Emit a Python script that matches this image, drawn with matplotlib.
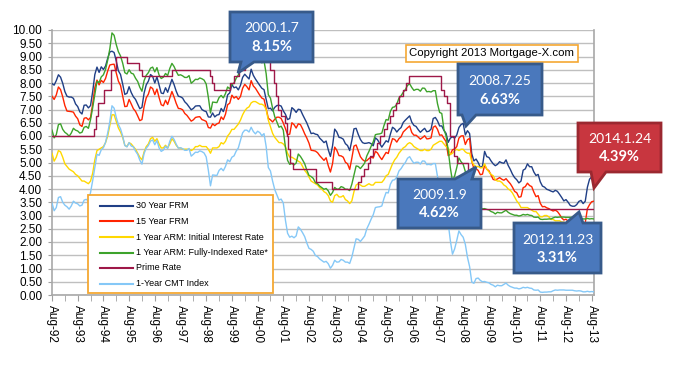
import numpy as np
import matplotlib
matplotlib.use("Agg")
import matplotlib.pyplot as plt
from matplotlib.patches import Polygon, Rectangle
from matplotlib.lines import Line2D

# ---------------- data (monthly, Aug-1992 .. Sep-2013) ----------------
frm30 = [7.98, 7.92, 8.09, 8.31, 8.22,
         7.99, 7.68, 7.50, 7.47, 7.47, 7.42, 7.21, 7.11, 6.91, 6.83, 7.16, 7.17,
         7.06, 7.15, 7.68, 8.32, 8.60, 8.40, 8.61, 8.51, 8.64, 8.93, 9.17, 9.20,
         9.15, 8.83, 8.46, 8.32, 7.96, 7.57, 7.61, 7.86, 7.64, 7.48, 7.38, 7.20,
         7.03, 7.08, 7.62, 7.93, 8.07, 8.32, 8.25, 8.00, 8.23, 7.92, 7.62, 7.60,
         7.82, 7.65, 7.90, 8.14, 7.94, 7.69, 7.50, 7.48, 7.43, 7.29, 7.21, 7.10,
         6.99, 7.04, 7.13, 7.14, 7.14, 7.00, 6.95, 6.92, 6.72, 6.71, 6.87, 6.72,
         6.79, 6.81, 7.04, 6.92, 7.15, 7.55, 7.63, 7.94, 7.82, 7.85, 7.74, 7.91,
         8.21, 8.33, 8.24, 8.15, 8.52, 8.29, 8.15, 8.03, 7.91, 7.80, 7.75, 7.38,
         7.03, 7.05, 6.95, 7.08, 7.15, 7.16, 7.13, 6.95, 6.82, 6.62, 6.66, 7.07,
         7.00, 6.89, 7.01, 6.99, 6.81, 6.65, 6.49, 6.29, 6.09, 6.11, 6.07, 6.05,
         5.92, 5.84, 5.75, 5.81, 5.48, 5.23, 5.63, 6.26, 6.15, 5.95, 5.93, 5.88,
         5.71, 5.64, 5.45, 5.83, 6.27, 6.29, 6.06, 5.87, 5.75, 5.72, 5.73, 5.75,
         5.71, 5.63, 5.93, 5.86, 5.72, 5.58, 5.70, 5.82, 5.77, 6.07, 6.33, 6.27,
         6.15, 6.25, 6.32, 6.51, 6.60, 6.68, 6.76, 6.52, 6.40, 6.36, 6.24, 6.14,
         6.22, 6.29, 6.16, 6.18, 6.26, 6.66, 6.70, 6.57, 6.38, 6.38, 6.21, 6.10,
         5.76, 5.92, 5.97, 5.92, 6.04, 6.32, 6.43, 6.48, 6.04, 6.20, 6.09, 5.33,
         5.06, 5.13, 5.00, 4.81, 4.86, 5.42, 5.22, 5.19, 5.06, 4.95, 4.88, 4.93,
         5.03, 4.99, 4.97, 5.10, 4.89, 4.74, 4.56, 4.43, 4.35, 4.23, 4.30, 4.71,
         4.76, 4.95, 4.84, 4.84, 4.64, 4.51, 4.55, 4.27, 4.11, 4.07, 3.99, 3.96,
         3.92, 3.89, 3.95, 3.91, 3.80, 3.68, 3.55, 3.60, 3.50, 3.38, 3.35, 3.35,
         3.41, 3.53, 3.57, 3.45, 3.54, 4.07, 4.37, 4.46, 4.49]

frm15 = [7.50, 7.38, 7.55, 7.85, 7.75,
         7.48, 7.15, 6.94, 6.93, 6.92, 6.90, 6.75, 6.65, 6.42, 6.36, 6.67, 6.69,
         6.61, 6.70, 7.21, 7.83, 8.11, 7.93, 8.10, 8.02, 8.17, 8.45, 8.68, 8.70,
         8.71, 8.38, 8.07, 7.91, 7.52, 7.11, 7.12, 7.38, 7.21, 7.03, 6.93, 6.76,
         6.58, 6.62, 7.11, 7.44, 7.58, 7.85, 7.79, 7.56, 7.77, 7.45, 7.18, 7.14,
         7.35, 7.19, 7.44, 7.68, 7.47, 7.23, 7.04, 7.03, 6.99, 6.85, 6.78, 6.67,
         6.56, 6.61, 6.70, 6.72, 6.73, 6.62, 6.59, 6.55, 6.32, 6.30, 6.46, 6.39,
         6.46, 6.49, 6.72, 6.62, 6.82, 7.18, 7.24, 7.54, 7.43, 7.49, 7.38, 7.49,
         7.80, 7.95, 7.86, 7.74, 8.09, 7.89, 7.80, 7.67, 7.54, 7.43, 7.39, 7.03,
         6.67, 6.61, 6.53, 6.63, 6.71, 6.71, 6.66, 6.49, 6.28, 6.05, 6.07, 6.50,
         6.43, 6.30, 6.46, 6.43, 6.27, 6.08, 5.92, 5.73, 5.46, 5.45, 5.43, 5.37,
         5.26, 5.17, 5.08, 5.18, 4.88, 4.64, 4.96, 5.58, 5.46, 5.26, 5.25, 5.20,
         5.01, 4.95, 4.74, 5.16, 5.62, 5.66, 5.44, 5.22, 5.11, 5.05, 5.07, 5.15,
         5.20, 5.17, 5.42, 5.36, 5.22, 5.11, 5.25, 5.38, 5.34, 5.64, 5.90, 5.87,
         5.77, 5.90, 5.97, 6.15, 6.23, 6.31, 6.38, 6.13, 6.03, 6.03, 5.96, 5.88,
         5.94, 6.01, 5.89, 5.90, 5.93, 6.33, 6.38, 6.25, 6.03, 6.04, 5.91, 5.79,
         5.26, 5.31, 5.48, 5.51, 5.60, 5.92, 6.00, 6.01, 5.68, 5.86, 5.91, 5.05,
         4.77, 4.77, 4.70, 4.54, 4.56, 4.90, 4.75, 4.69, 4.53, 4.36, 4.34, 4.38,
         4.43, 4.37, 4.33, 4.39, 4.29, 4.20, 4.07, 3.91, 3.86, 3.69, 3.71, 4.05,
         4.09, 4.22, 4.13, 4.09, 3.88, 3.71, 3.75, 3.46, 3.33, 3.34, 3.29, 3.26,
         3.21, 3.17, 3.20, 3.15, 3.04, 2.91, 2.83, 2.86, 2.79, 2.70, 2.66, 2.65,
         2.71, 2.77, 2.75, 2.67, 2.73, 3.26, 3.41, 3.52, 3.54]

arm_initial = [5.35, 5.05, 5.20, 5.45, 5.40,
               5.20, 4.95, 4.85, 4.75, 4.70, 4.65, 4.55, 4.50, 4.40, 4.30, 4.30, 4.25,
               4.20, 4.30, 4.60, 5.10, 5.45, 5.50, 5.55, 5.60, 5.75, 6.00, 6.40, 6.80,
               6.80, 6.55, 6.30, 6.15, 5.95, 5.65, 5.60, 5.75, 5.70, 5.60, 5.50, 5.35,
               5.20, 5.10, 5.40, 5.60, 5.70, 5.90, 5.95, 5.80, 5.90, 5.70, 5.55, 5.55,
               5.65, 5.55, 5.70, 5.90, 5.80, 5.65, 5.55, 5.55, 5.50, 5.50, 5.50, 5.50,
               5.45, 5.50, 5.60, 5.60, 5.65, 5.60, 5.60, 5.60, 5.50, 5.35, 5.55, 5.55,
               5.55, 5.60, 5.75, 5.70, 5.80, 6.00, 6.10, 6.25, 6.25, 6.35, 6.45, 6.60,
               6.80, 6.95, 7.05, 7.10, 7.25, 7.30, 7.30, 7.25, 7.20, 7.20, 7.15, 7.00,
               6.60, 6.35, 6.10, 5.95, 5.85, 5.75, 5.75, 5.70, 5.60, 5.35, 5.20, 5.20,
               5.15, 5.10, 5.05, 5.00, 4.85, 4.70, 4.60, 4.45, 4.30, 4.25, 4.20, 4.15,
               4.05, 4.00, 3.90, 3.85, 3.75, 3.55, 3.50, 3.75, 3.80, 3.70, 3.70, 3.75,
               3.60, 3.55, 3.45, 3.55, 3.90, 4.15, 4.20, 4.15, 4.10, 4.10, 4.15, 4.20,
               4.15, 4.15, 4.25, 4.25, 4.25, 4.25, 4.35, 4.50, 4.55, 4.75, 4.95, 5.10,
               5.20, 5.35, 5.45, 5.55, 5.60, 5.70, 5.75, 5.70, 5.60, 5.55, 5.50, 5.45,
               5.45, 5.50, 5.45, 5.45, 5.50, 5.65, 5.70, 5.75, 5.80, 5.80, 5.70, 5.60,
               5.55, 5.30, 5.35, 5.45, 5.50, 5.45, 5.50, 5.50, 5.40, 5.35, 5.35, 5.05,
               4.90, 4.85, 4.85, 4.80, 4.80, 4.95, 4.75, 4.65, 4.55, 4.50, 4.35, 4.30,
               4.30, 4.25, 4.15, 4.10, 4.00, 3.95, 3.85, 3.70, 3.55, 3.45, 3.30, 3.30,
               3.30, 3.30, 3.25, 3.20, 3.15, 3.15, 3.05, 2.95, 2.95, 3.00, 3.00, 2.95,
               2.85, 2.85, 2.80, 2.80, 2.80, 2.75, 2.75, 2.70, 2.65, 2.60, 2.60, 2.55,
               2.60, 2.65, 2.65, 2.60, 2.55, 2.55, 2.65, 2.70, 2.65]

arm_fully_indexed = [6.22, 5.93, 6.05, 6.43, 6.46,
                     6.25, 6.14, 6.08, 5.99, 6.11, 6.29, 6.22, 6.19, 6.11, 6.14, 6.33, 6.36,
                     6.29, 6.62, 7.07, 7.57, 8.06, 8.02, 8.23, 8.31, 8.51, 8.86, 9.29, 9.89,
                     9.80, 9.45, 9.18, 9.02, 8.75, 8.39, 8.34, 8.50, 8.37, 8.34, 8.18, 8.06,
                     7.84, 7.69, 8.09, 8.29, 8.39, 8.56, 8.60, 8.42, 8.58, 8.30, 8.17, 8.22,
                     8.36, 8.28, 8.55, 8.74, 8.62, 8.44, 8.29, 8.31, 8.27, 8.21, 8.21, 8.28,
                     7.99, 8.06, 8.14, 8.13, 8.19, 8.16, 8.11, 7.96, 7.46, 6.87, 7.28, 7.27,
                     7.26, 7.45, 7.53, 7.44, 7.60, 7.85, 7.78, 7.95, 8.00, 8.18, 8.30, 8.59,
                     8.87, 8.97, 8.97, 8.90, 9.08, 8.92, 8.83, 8.93, 8.88, 8.76, 8.84, 8.35,
                     7.56, 7.43, 7.05, 6.73, 6.53, 6.33, 6.37, 6.22, 5.57, 5.08, 4.93, 4.97,
                     4.91, 4.98, 5.32, 5.23, 5.10, 4.95, 4.71, 4.51, 4.47, 4.40, 4.24, 4.20,
                     4.11, 4.05, 3.99, 4.02, 3.93, 3.76, 3.87, 4.06, 3.99, 4.00, 4.09, 4.06,
                     3.99, 3.99, 3.94, 4.18, 4.53, 4.87, 4.85, 4.77, 4.87, 4.98, 5.25, 5.42,
                     5.61, 5.78, 6.05, 6.07, 6.08, 6.11, 6.39, 6.62, 6.60, 6.93, 7.08, 7.10,
                     7.20, 7.43, 7.52, 7.65, 7.75, 7.91, 7.97, 7.83, 7.72, 7.76, 7.76, 7.69,
                     7.81, 7.80, 7.67, 7.68, 7.66, 7.71, 7.71, 7.22, 6.89, 6.85, 6.25, 6.01,
                     5.46, 4.80, 4.29, 4.49, 4.81, 5.17, 5.03, 4.93, 4.66, 4.17, 3.82, 3.24,
                     3.19, 3.37, 3.39, 3.30, 3.25, 3.26, 3.23, 3.21, 3.15, 3.12, 3.06, 3.12,
                     3.10, 3.10, 3.15, 3.20, 3.12, 3.07, 3.04, 3.01, 3.01, 2.98, 3.00, 3.04,
                     3.02, 3.04, 3.01, 3.00, 2.94, 2.93, 2.94, 2.86, 2.85, 2.86, 2.86, 2.87,
                     2.87, 2.91, 2.94, 2.93, 2.94, 2.94, 2.94, 2.93, 2.93, 2.93, 2.93, 2.91,
                     2.90, 2.91, 2.90, 2.87, 2.87, 2.89, 2.87, 2.88, 2.87]

cmt_1yr = [3.47, 3.18, 3.30, 3.68, 3.71,
           3.50, 3.39, 3.33, 3.24, 3.36, 3.54, 3.47, 3.44, 3.36, 3.39, 3.58, 3.61,
           3.54, 3.87, 4.32, 4.82, 5.31, 5.27, 5.48, 5.56, 5.76, 6.11, 6.54, 7.14,
           7.05, 6.70, 6.43, 6.27, 6.00, 5.64, 5.59, 5.75, 5.62, 5.59, 5.43, 5.31,
           5.09, 4.94, 5.34, 5.54, 5.64, 5.81, 5.85, 5.67, 5.83, 5.55, 5.42, 5.47,
           5.61, 5.53, 5.80, 5.99, 5.87, 5.69, 5.54, 5.56, 5.52, 5.46, 5.46, 5.53,
           5.24, 5.31, 5.39, 5.38, 5.44, 5.41, 5.36, 5.21, 4.71, 4.12, 4.53, 4.52,
           4.51, 4.70, 4.78, 4.69, 4.85, 5.10, 5.03, 5.20, 5.25, 5.43, 5.55, 5.84,
           6.12, 6.22, 6.22, 6.15, 6.33, 6.17, 6.08, 6.18, 6.13, 6.01, 6.09, 5.60,
           4.81, 4.68, 4.30, 3.98, 3.78, 3.58, 3.62, 3.47, 2.82, 2.33, 2.18, 2.22,
           2.16, 2.23, 2.57, 2.48, 2.35, 2.20, 1.96, 1.76, 1.72, 1.65, 1.49, 1.45,
           1.36, 1.30, 1.24, 1.27, 1.18, 1.01, 1.12, 1.31, 1.24, 1.25, 1.34, 1.31,
           1.24, 1.24, 1.19, 1.43, 1.78, 2.12, 2.10, 2.02, 2.12, 2.23, 2.50, 2.67,
           2.86, 3.03, 3.30, 3.32, 3.33, 3.36, 3.64, 3.87, 3.85, 4.18, 4.33, 4.35,
           4.45, 4.68, 4.77, 4.90, 5.00, 5.16, 5.22, 5.08, 4.97, 5.01, 5.01, 4.94,
           5.06, 5.05, 4.92, 4.93, 4.91, 4.96, 4.96, 4.47, 4.14, 4.10, 3.50, 3.26,
           2.71, 2.05, 1.54, 1.74, 2.06, 2.42, 2.28, 2.18, 1.91, 1.42, 1.07, 0.49,
           0.44, 0.62, 0.64, 0.55, 0.50, 0.51, 0.48, 0.46, 0.40, 0.37, 0.31, 0.37,
           0.35, 0.35, 0.40, 0.45, 0.37, 0.32, 0.29, 0.26, 0.26, 0.23, 0.25, 0.29,
           0.27, 0.29, 0.26, 0.25, 0.19, 0.18, 0.19, 0.11, 0.10, 0.11, 0.11, 0.12,
           0.12, 0.16, 0.19, 0.18, 0.19, 0.19, 0.19, 0.18, 0.18, 0.18, 0.18, 0.16,
           0.15, 0.16, 0.15, 0.12, 0.12, 0.14, 0.12, 0.13, 0.12]

prime_dates = ["1992-08-01", "1994-03-24", "1994-04-19", "1994-05-17", "1994-08-16",
               "1994-11-15", "1995-02-01", "1995-07-07", "1995-12-20", "1996-02-01",
               "1997-03-26", "1998-09-30", "1998-10-16", "1998-11-18", "1999-07-01",
               "1999-08-25", "1999-11-17", "2000-02-03", "2000-03-22", "2000-05-17",
               "2001-01-04", "2001-01-31", "2001-03-21", "2001-04-19", "2001-05-16",
               "2001-06-28", "2001-08-22", "2001-09-18", "2001-10-03", "2001-11-07",
               "2001-12-12", "2002-11-07", "2003-06-27", "2004-07-01", "2004-08-11",
               "2004-09-22", "2004-11-11", "2004-12-15", "2005-02-03", "2005-03-23",
               "2005-05-04", "2005-07-01", "2005-08-10", "2005-09-21", "2005-11-02",
               "2005-12-14", "2006-02-01", "2006-03-29", "2006-05-11", "2006-06-29",
               "2007-09-19", "2007-11-01", "2007-12-12", "2008-01-22", "2008-01-31",
               "2008-03-19", "2008-05-01", "2008-10-09", "2008-10-30", "2008-12-17",
               "2013-09-01"]
prime_rates = [6.00, 6.25, 6.75, 7.25, 7.75,
               8.50, 9.00, 8.75, 8.50, 8.25,
               8.50, 8.25, 8.00, 7.75, 8.00,
               8.25, 8.50, 8.75, 9.00, 9.50,
               9.00, 8.50, 8.00, 7.50, 7.00,
               6.75, 6.50, 6.00, 5.50, 5.00,
               4.75, 4.25, 4.00, 4.25, 4.50,
               4.75, 5.00, 5.25, 5.50, 5.75,
               6.00, 6.25, 6.50, 6.75, 7.00,
               7.25, 7.50, 7.75, 8.00, 8.25,
               7.75, 7.50, 7.25, 6.50, 6.00,
               5.25, 5.00, 4.50, 4.00, 3.25,
               3.25]

series_names = ["30 Year FRM", "15 Year FRM", "1 Year ARM: Initial Interest Rate",
                "1 Year ARM: Fully-Indexed Rate*", "Prime Rate", "1-Year CMT Index"]
series_colors = ["#203F86", "#FF2400", "#FFD800", "#3DA32B", "#9E1848", "#85C8F7"]

tick_labels = ["Aug-%02d" % (y % 100) for y in range(1992, 2014)]
y_ticks = [i * 0.5 for i in range(21)]

callouts = [  # (date text, value text, colour)
    ("2000.1.7", "8.15%", "blue"),
    ("2008.7.25", "6.63%", "blue"),
    ("2009.1.9", "4.62%", "blue"),
    ("2012.11.23", "3.31%", "blue"),
    ("2014.1.24", "4.39%", "red"),
]

# ---------------- figure ----------------
W, H = 673, 366
plt.rcParams["font.family"] = ["Liberation Sans", "DejaVu Sans"]
fig = plt.figure(figsize=(W / 100, H / 100), dpi=100)
fig.patch.set_facecolor("white")
ax = fig.add_axes([52 / W, 1 - 295 / H, 542 / W, 265 / H])

start = 1992 + 7 / 12
t = start + np.arange(len(frm30)) / 12.0


def frac_year(s):
    y, m, d = (int(p) for p in s.split("-"))
    return y + (m - 1) / 12 + (d - 1) / 365.0


pt = [frac_year(s) for s in prime_dates]

lw = 1.0
ax.plot(t, frm30, color=series_colors[0], lw=lw, zorder=3)
ax.plot(t, frm15, color=series_colors[1], lw=lw, zorder=3)
ax.plot(t, arm_initial, color=series_colors[2], lw=lw, zorder=3)
ax.plot(t, arm_fully_indexed, color=series_colors[3], lw=lw, zorder=3)
ax.step(pt, prime_rates, where="post", color=series_colors[4], lw=lw, zorder=3)
ax.plot(t, cmt_1yr, color=series_colors[5], lw=lw, zorder=3)

ax.set_xlim(start, start + 21.09)
ax.set_ylim(0, 10)
ax.set_yticks(y_ticks)
ax.set_yticklabels(["%.2f" % v for v in y_ticks], fontsize=8.5)
major = [start + k for k in range(len(tick_labels))]
minor = [start + k + 0.5 for k in range(len(tick_labels) - 1)]
ax.set_xticks(major)
ax.set_xticks(minor, minor=True)
ax.set_xticklabels(tick_labels, rotation=270, fontsize=8.5, va="top", ha="center")
ax.tick_params(axis="x", which="both", length=4, color="#A0A0A0", pad=3)
ax.tick_params(axis="y", length=3, color="#A0A0A0", pad=4)
ax.grid(axis="y", color="#BFBFBF", lw=1.0, zorder=0)
ax.set_axisbelow(True)
for side in ("left", "bottom", "right"):
    ax.spines[side].set_color("#A8A8A8")
    ax.spines[side].set_linewidth(1.2)
ax.spines["top"].set_visible(False)


def fp(x, y):
    return (x / W, 1 - y / H)


# legend box (Excel-style), image-pixel layout
lx0, ly0, lx1, ly1 = 88, 195, 273, 293
fig.add_artist(Rectangle(fp(lx0, ly1), (lx1 - lx0) / W, (ly1 - ly0) / H,
                         transform=fig.transFigure, facecolor="white",
                         edgecolor="#F5A833", lw=1.3, zorder=6))
row_y = [206, 221.5, 237, 252.5, 268, 283.5]
for name, col, ry in zip(series_names, series_colors, row_y):
    fig.add_artist(Line2D([100 / W, 133 / W], [1 - ry / H, 1 - ry / H],
                          transform=fig.transFigure, color=col, lw=1.5, zorder=7))
    fig.text(136 / W, 1 - ry / H, name, ha="left", va="center", fontsize=6.5,
             zorder=7)

fig.text(492 / W, 1 - 53.5 / H, "Copyright 2013 Mortgage-X.com", ha="center",
         va="center", fontsize=8.2,
         bbox=dict(boxstyle="square,pad=0.35", fc="white", ec="#F5A833", lw=1.2))

# callout layout in image pixels: box (x0, y0, x1, y1), pointer base x (a, b), side, tip
layout = [
    ((230, 12, 313, 62), (241, 254), "bottom", (238, 73)),
    ((458, 64, 542, 115), (462, 476), "bottom", (466, 126)),
    ((398, 179, 481, 228), (455, 472), "top", (476, 167)),
    ((514, 223, 601, 273), (566, 583), "top", (579, 212)),
    ((578, 123, 661, 172), (591, 606), "bottom", (594, 188)),
]
styles = {"blue": ("#4A78BC", "#375A8A"), "red": ("#C8363F", "#9B2830")}

for (txt1, txt2, col), (box, base, side, tip) in zip(callouts, layout):
    x0, y0, x1, y1 = box
    a, b = base
    if side == "bottom":
        pts = [(x0, y0), (x1, y0), (x1, y1), (b, y1), tip, (a, y1), (x0, y1)]
    else:
        pts = [(x0, y0), (a, y0), tip, (b, y0), (x1, y0), (x1, y1), (x0, y1)]
    fc, ec = styles[col]
    poly = Polygon([fp(*p) for p in pts], closed=True, transform=fig.transFigure,
                   facecolor=fc, edgecolor=ec, lw=2.0, joinstyle="miter", zorder=10)
    fig.add_artist(poly)
    cx = (x0 + x1) / 2
    h = y1 - y0
    fig.text(*fp(cx, y0 + h * 0.33), txt1, ha="center", va="center", color="white",
             fontsize=10, family=["Lato", "DejaVu Sans"], zorder=11)
    fig.text(*fp(cx, y0 + h * 0.70), txt2, ha="center", va="center", color="white",
             fontsize=10.5, fontweight="bold", family=["Lato", "DejaVu Sans"], zorder=11)

fig.savefig("out.png", dpi=100, facecolor="white")
